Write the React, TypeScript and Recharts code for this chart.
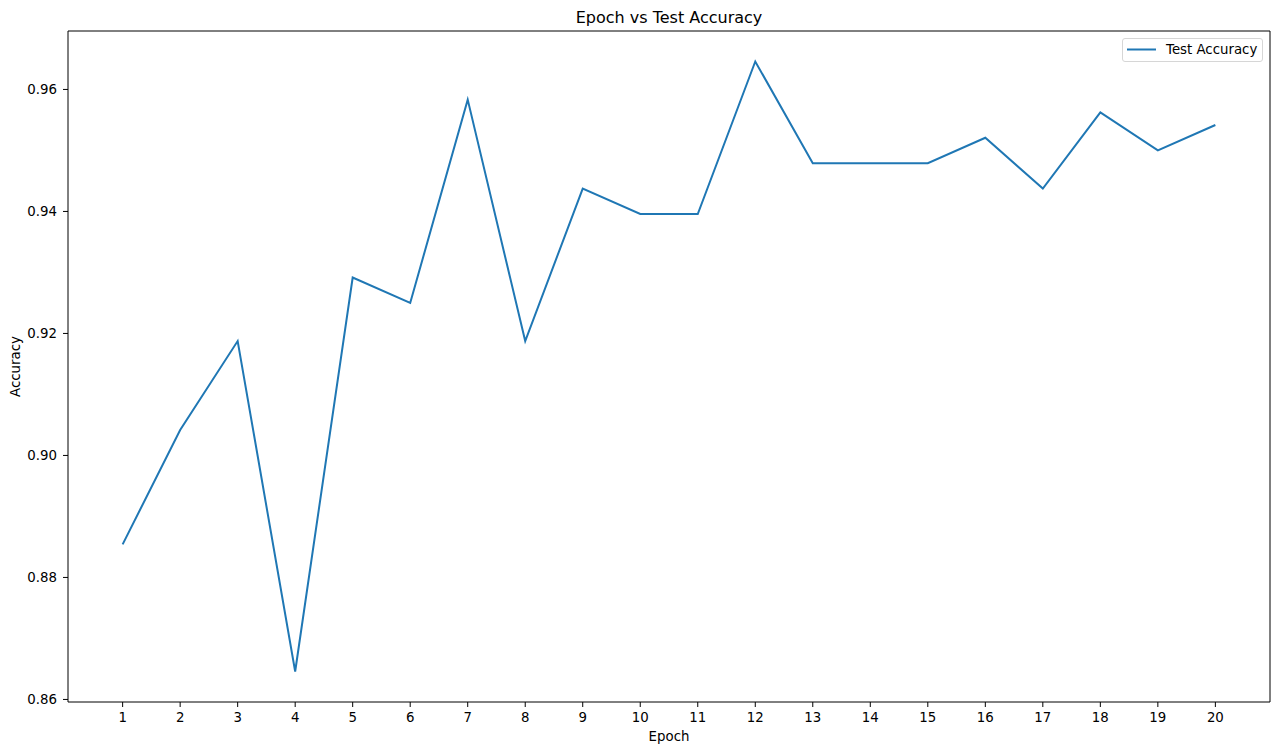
import React from 'react';
import { LineChart, Line, XAxis, YAxis, ReferenceLine, Legend } from 'recharts';

const epochs = [1, 2, 3, 4, 5, 6, 7, 8, 9, 10, 11, 12, 13, 14, 15, 16, 17, 18, 19, 20];
const testAccuracy = [
  0.88542, 0.90417, 0.91875, 0.86458, 0.92917, 0.925, 0.95833, 0.91875, 0.94375, 0.93958,
  0.93958, 0.96458, 0.94792, 0.94792, 0.94792, 0.95208, 0.94375, 0.95625, 0.95, 0.95417,
];
const yTicks = [0.86, 0.88, 0.9, 0.92, 0.94, 0.96];
const xDomain: [number, number] = [0.05, 20.95];
const yDomain: [number, number] = [0.85958, 0.96958];

const data = epochs.map((e, i) => ({ epoch: e, acc: testAccuracy[i] }));

const FONT = 'DejaVu Sans, sans-serif';
const BLUE = '#1f77b4';

const LegendBox = () => (
  <div
    style={{
      boxSizing: 'border-box',
      width: 141,
      height: 24,
      border: '1px solid #d6d6d6',
      borderRadius: 3,
      background: 'rgba(255,255,255,0.8)',
      display: 'flex',
      alignItems: 'center',
      fontFamily: FONT,
      fontSize: 13.33,
      color: '#000',
    }}
  >
    <svg width={43} height={22} style={{ display: 'block', flex: 'none' }}>
      <line x1={4} x2={33} y1={10.5} y2={10.5} stroke={BLUE} strokeWidth={2} />
    </svg>
    <span style={{ whiteSpace: 'nowrap', lineHeight: '22px' }}>Test Accuracy</span>
  </div>
);

const YLabel = (props: any) => {
  const vb = props.viewBox || { x: 0, y: 31, width: 68, height: 671 };
  const cy = vb.y + vb.height / 2;
  return (
    <text
      x={20}
      y={cy}
      transform={`rotate(-90, 20, ${cy})`}
      textAnchor="middle"
      fontFamily={FONT}
      fontSize={13.33}
      fill="#000"
    >
      Accuracy
    </text>
  );
};

const XLabel = (props: any) => {
  const vb = props.viewBox || { x: 68, y: 702, width: 1202, height: 52 };
  const cx = vb.x + vb.width / 2;
  return (
    <text x={cx} y={741} textAnchor="middle" fontFamily={FONT} fontSize={13.33} fill="#000">
      Epoch
    </text>
  );
};

export default function App() {
  return (
    <div style={{ position: 'absolute', left: 0, top: 0, width: 1279, height: 754, background: '#fff' }}>
      <LineChart
        width={1279}
        height={754}
        data={data}
        margin={{ top: 31, right: 9, bottom: 0, left: 0 }}
        style={{ fontFamily: FONT }}
      >
        <XAxis
          dataKey="epoch"
          type="number"
          domain={xDomain}
          ticks={epochs}
          interval={0}
          allowDataOverflow
          height={52}
          tickSize={5}
          tickMargin={6}
          stroke="#000"
          tick={{ fill: '#000', fontSize: 13.33, fontFamily: FONT }}
          tickLine={{ stroke: '#000' }}
          axisLine={{ stroke: '#000' }}
          label={<XLabel />}
        />
        <YAxis
          type="number"
          domain={yDomain}
          ticks={yTicks}
          allowDataOverflow
          width={68}
          tickSize={5}
          tickMargin={6}
          stroke="#000"
          tickFormatter={(v: number) => v.toFixed(2)}
          tick={{ fill: '#000', fontSize: 13.33, fontFamily: FONT }}
          tickLine={{ stroke: '#000' }}
          axisLine={{ stroke: '#000' }}
          label={<YLabel />}
        />
        <ReferenceLine y={yDomain[1]} stroke="#000" strokeWidth={1} ifOverflow="extendDomain" />
        <ReferenceLine x={xDomain[1]} stroke="#000" strokeWidth={1} ifOverflow="extendDomain" />
        <Legend
          layout="horizontal"
          verticalAlign="middle"
          align="center"
          content={() => <LegendBox />}
          wrapperStyle={{ position: 'absolute', top: 38, left: 1122, width: 141, height: 24, right: 'auto', bottom: 'auto' }}
        />
        <Line
          type="linear"
          dataKey="acc"
          name="Test Accuracy"
          stroke={BLUE}
          strokeWidth={2}
          dot={false}
          activeDot={false}
          isAnimationActive={false}
        />
      </LineChart>
      <svg
        width={1279}
        height={40}
        style={{ position: 'absolute', left: 0, top: 0, pointerEvents: 'none' }}
      >
        <text x={669} y={23} textAnchor="middle" fontFamily={FONT} fontSize={16} fill="#000">
          Epoch vs Test Accuracy
        </text>
      </svg>
    </div>
  );
}
